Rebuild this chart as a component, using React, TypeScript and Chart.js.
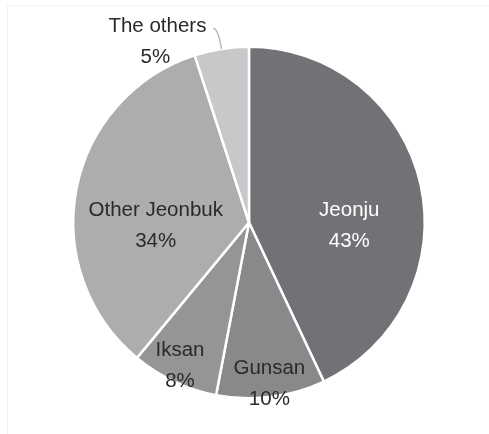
import React, { useEffect, useRef } from "react";
import { Chart, registerables } from "chart.js";

Chart.register(...registerables);

const categories = ["Jeonju", "Gunsan", "Iksan", "Other Jeonbuk", "The others"];
const shares = [43, 10, 8, 34, 5];
const percentLabels = ["43%", "10%", "8%", "34%", "5%"];
const sliceColors = ["#727276", "#89898c", "#959598", "#adadb0", "#c8c8ca"];
const labelColors = ["#ffffff", "#2a2a2a", "#2a2a2a", "#2a2a2a", "#2a2a2a"];
// label placement: angle offset (deg) from slice mid-angle, radius fraction; -1 = outside with leader
const labelAngleOffset = [14.3, 0, 0.5, -12.6, 0];
const labelRadius = [0.571, 0.925, 0.905, 0.531, -1];

const FONT = '20.5px "Liberation Sans", Arial, sans-serif';
const LINE = 31;

const labelPlugin = {
  id: "sliceLabels",
  beforeDraw(chart: any) {
    const ctx = chart.ctx;
    ctx.save();
    ctx.strokeStyle = "#f3f3f3";
    ctx.lineWidth = 1;
    ctx.strokeRect(7.5, 5.5, chart.width - 6, chart.height);
    ctx.restore();
  },
  afterDatasetsDraw(chart: any) {
    const ctx = chart.ctx;
    const meta = chart.getDatasetMeta(0);
    ctx.save();
    ctx.font = FONT;
    ctx.textBaseline = "middle";
    meta.data.forEach((arc: any, i: number) => {
      const p = arc.getProps(["x", "y", "startAngle", "endAngle", "outerRadius"], true);
      const mid = (p.startAngle + p.endAngle) / 2;
      if (labelRadius[i] > 0) {
        const a = mid + (labelAngleOffset[i] * Math.PI) / 180;
        const r = p.outerRadius * labelRadius[i];
        const cx = p.x + Math.cos(a) * r;
        const cy = p.y + Math.sin(a) * r;
        ctx.fillStyle = labelColors[i];
        ctx.textAlign = "center";
        ctx.fillText(categories[i], cx, cy - LINE / 2);
        ctx.fillText(percentLabels[i], cx, cy + LINE / 2);
      } else {
        const ex = p.x + Math.cos(mid) * p.outerRadius;
        const ey = p.y + Math.sin(mid) * p.outerRadius;
        const kx = p.x + Math.cos(mid) * (p.outerRadius + 20);
        const ky = p.y + Math.sin(mid) * (p.outerRadius + 20);
        ctx.strokeStyle = "#b8b8ba";
        ctx.lineWidth = 1.5;
        ctx.beginPath();
        ctx.moveTo(ex, ey);
        ctx.quadraticCurveTo(kx, ky, kx - 5, ky - 1);
        ctx.stroke();
        ctx.fillStyle = labelColors[i];
        ctx.textAlign = "center";
        const tx = kx - 62;
        ctx.fillText(categories[i], tx + 1, ky - 3);
        ctx.fillText(percentLabels[i], tx - 1, ky - 3 + LINE);
      }
    });
    ctx.restore();
  },
};

export default function App() {
  const ref = useRef<HTMLCanvasElement | null>(null);
  useEffect(() => {
    document.body.style.margin = "0";
    const chart = new Chart(ref.current as HTMLCanvasElement, {
      type: "pie",
      data: {
        labels: categories,
        datasets: [
          {
            data: shares,
            backgroundColor: sliceColors,
            borderColor: "#ffffff",
            borderWidth: 2.5,
          },
        ],
      },
      options: {
        responsive: false,
        animation: false,
        layout: { padding: { left: 72, right: 63, top: 45, bottom: 34 } },
        plugins: {
          legend: { display: false },
          tooltip: { enabled: false },
          title: { display: false },
        },
      },
      plugins: [labelPlugin],
    });
    return () => chart.destroy();
  }, []);
  return (
    <div style={{ position: "fixed", left: 0, top: 0, width: 489, height: 434, background: "#fff" }}>
      <canvas ref={ref} width={489} height={434} style={{ width: 489, height: 434 }} />
    </div>
  );
}
